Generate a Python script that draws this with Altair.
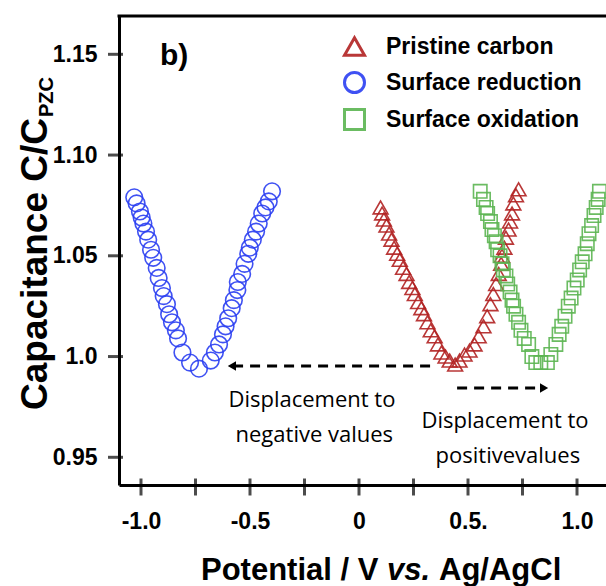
import altair as alt
import pandas as pd

# ---------------- data ----------------
series_names = ["Pristine carbon", "Surface reduction", "Surface oxidation"]
series_colors = ["#b22222", "#2b3ff2", "#5cb552"]
series_shapes = ["triangle-up", "circle", "square"]

red_v = [0.099, 0.106, 0.114, 0.126, 0.138, 0.149, 0.161, 0.175, 0.187, 0.202,
         0.218, 0.230, 0.245, 0.256, 0.271, 0.286, 0.298, 0.314, 0.329, 0.347,
         0.362, 0.378, 0.397, 0.416, 0.441, 0.461, 0.484, 0.507, 0.530, 0.549,
         0.571, 0.588, 0.603, 0.616, 0.629, 0.641, 0.652, 0.656, 0.667, 0.674,
         0.686, 0.693, 0.702, 0.708, 0.720, 0.732]
red_c = [1.074, 1.071, 1.068, 1.065, 1.061, 1.058, 1.054, 1.051, 1.048, 1.044,
         1.041, 1.037, 1.034, 1.031, 1.027, 1.024, 1.021, 1.017, 1.013, 1.010,
         1.006, 1.002, 1.000, 0.998, 0.996, 0.998, 1.001, 1.003, 1.006, 1.010,
         1.015, 1.020, 1.026, 1.031, 1.036, 1.041, 1.046, 1.050, 1.054, 1.059,
         1.063, 1.067, 1.071, 1.076, 1.080, 1.083]

blue_v = [-1.031, -1.020, -1.005, -0.997, -0.989, -0.977, -0.967, -0.954, -0.944, -0.928,
          -0.919, -0.904, -0.896, -0.881, -0.871, -0.858, -0.840, -0.830, -0.810, -0.775,
          -0.734, -0.680, -0.661, -0.642, -0.624, -0.612, -0.600, -0.584, -0.574, -0.558,
          -0.556, -0.536, -0.525, -0.508, -0.501, -0.487, -0.472, -0.460, -0.444, -0.429,
          -0.414, -0.399]
blue_c = [1.079, 1.076, 1.072, 1.069, 1.066, 1.062, 1.058, 1.053, 1.049, 1.044,
          1.039, 1.034, 1.030, 1.026, 1.021, 1.017, 1.013, 1.009, 1.002, 0.997,
          0.994, 0.998, 1.002, 1.006, 1.011, 1.015, 1.019, 1.024, 1.028, 1.033,
          1.037, 1.041, 1.046, 1.051, 1.054, 1.058, 1.062, 1.066, 1.071, 1.074,
          1.077, 1.082]

green_v = [0.556, 0.571, 0.583, 0.590, 0.603, 0.610, 0.621, 0.629, 0.636, 0.647,
           0.656, 0.662, 0.674, 0.682, 0.693, 0.702, 0.709, 0.720, 0.732, 0.743,
           0.758, 0.778, 0.793, 0.811, 0.834, 0.864, 0.880, 0.903, 0.918, 0.930,
           0.945, 0.960, 0.973, 0.986, 1.001, 1.012, 1.024, 1.037, 1.047, 1.055,
           1.067, 1.078, 1.088, 1.097, 1.103]
green_c = [1.082, 1.078, 1.074, 1.071, 1.067, 1.063, 1.060, 1.057, 1.053, 1.050,
           1.046, 1.043, 1.040, 1.036, 1.032, 1.028, 1.025, 1.021, 1.017, 1.013,
           1.009, 1.006, 1.000, 0.997, 0.997, 0.997, 1.001, 1.006, 1.011, 1.015,
           1.020, 1.025, 1.029, 1.034, 1.038, 1.043, 1.047, 1.051, 1.056, 1.061,
           1.065, 1.070, 1.074, 1.078, 1.082]

x_ticks = [-1.0, -0.75, -0.5, -0.25, 0.0, 0.25, 0.5, 0.75, 1.0]
x_label_vals = [-1.0, -0.5, 0.0, 0.5, 1.0]
x_label_text = ["-1.0", "-0.5", "0", "0.5.", "1.0"]
y_ticks = [0.95, 1.0, 1.05, 1.10, 1.15]
y_label_text = ["0.95", "1.0", "1.05", "1.10", "1.15"]

# annotations
arrow_start = [0.326, 0.450]
arrow_end = [-0.583, 0.849]
arrow_c = [0.9953, 0.9844]
arrow_heads = ["triangle-left", "triangle-right"]
note_text = ["Displacement to", "negative values", "Displacement to", "positivevalues"]
note_v = [-0.216, -0.205, 0.670, 0.683]
note_c = [0.9784, 0.9611, 0.9680, 0.9506]
panel_label = "b)"
panel_v, panel_c = -0.913, 1.1492

# ---------------- layout ----------------
W, H = 487, 469
x_dom = [-1.1009, 1.1330]
y_dom = [0.93625, 1.16901]
BOLD = "Liberation Sans"


def lab_expr(vals, texts):
    e = "''"
    for v, t in reversed(list(zip(vals, texts))):
        e = f"abs(datum.value - ({v})) < 0.01 ? '{t}' : ({e})"
    return e


xs = alt.Scale(domain=x_dom, nice=False, zero=False)
ys = alt.Scale(domain=y_dom, nice=False, zero=False)
x_axis = alt.Axis(values=x_label_vals, labelExpr=lab_expr(x_label_vals, x_label_text),
                  title=None, grid=False, ticks=False, tickSize=0, domainWidth=3,
                  domainColor="black", labelFont=BOLD, labelFontSize=23,
                  labelFontWeight="bold", labelColor="black", labelPadding=25)
y_axis = alt.Axis(values=y_ticks, labelExpr=lab_expr(y_ticks, y_label_text),
                  title=None, grid=False, ticks=False, tickSize=0, domainWidth=3,
                  domainColor="black", labelFont=BOLD, labelFontSize=23,
                  labelFontWeight="bold", labelColor="black", labelPadding=22)


def X(field="V"):
    return alt.X(f"{field}:Q", scale=xs, axis=x_axis)


def Y(field="C"):
    return alt.Y(f"{field}:Q", scale=ys, axis=y_axis)


legend = alt.Legend(orient="none", legendX=224, legendY=19, title=None,
                    labelFont=BOLD, labelFontSize=23, labelFontWeight="bold",
                    labelColor="black", labelLimit=400, symbolSize=400,
                    symbolStrokeWidth=3, labelOffset=20, rowPadding=4, padding=0)
color_enc = alt.Color("series:N", scale=alt.Scale(domain=series_names, range=series_colors),
                      legend=legend)
shape_enc = alt.Shape("series:N", scale=alt.Scale(domain=series_names, range=series_shapes),
                      legend=legend)

frames = []
for name, vv, cc in [(series_names[0], red_v, red_c),
                     (series_names[1], blue_v, blue_c),
                     (series_names[2], green_v, green_c)]:
    frames.append(pd.DataFrame({"V": vv, "C": cc, "series": name}))
sizes = {series_names[0]: 220, series_names[1]: 275, series_names[2]: 180}

layers = []
for df in frames:
    nm = df["series"].iloc[0]
    layers.append(
        alt.Chart(df).mark_point(filled=False, strokeWidth=1.6, size=sizes[nm], opacity=0.9)
        .encode(x=X(), y=Y(), color=color_enc, shape=shape_enc)
    )

# axis ticks crossing the axes
xt = alt.Chart(pd.DataFrame({"V": x_ticks})).mark_tick(
    orient="vertical", size=17, thickness=3, color="black", yOffset=2
).encode(x=X(), y=alt.value(H))
yt = alt.Chart(pd.DataFrame({"C": y_ticks})).mark_tick(
    orient="horizontal", size=15, thickness=3, color="black", xOffset=-3.5
).encode(y=Y(), x=alt.value(0))
top_rule = alt.Chart(pd.DataFrame({"a": [0]})).mark_rule(color="black", strokeWidth=3).encode(
    x=alt.value(-1.5), x2=alt.value(W + 5), y=alt.value(0))

# dashed arrows
arr = pd.DataFrame({"V": arrow_start, "V2": arrow_end, "C": arrow_c})
arr_lines = alt.Chart(arr).mark_rule(color="black", strokeWidth=3, strokeDash=[10, 7]).encode(
    x=X(), x2="V2:Q", y=Y())
heads = []
for v, c, shp in zip(arrow_end, arrow_c, arrow_heads):
    heads.append(alt.Chart(pd.DataFrame({"V": [v], "C": [c]})).mark_point(
        shape=shp, filled=True, color="black", size=90, opacity=1).encode(x=X(), y=Y()))

notes = alt.Chart(pd.DataFrame({"V": note_v, "C": note_c, "t": note_text})).mark_text(
    font="Open Sans", fontSize=22, color="black", align="center", baseline="middle"
).encode(x=X(), y=Y(), text="t:N")

panel = alt.Chart(pd.DataFrame({"V": [panel_v], "C": [panel_c], "t": [panel_label]})).mark_text(
    font=BOLD, fontSize=30, fontWeight="bold", color="black", align="left", baseline="middle"
).encode(x=X(), y=Y(), text="t:N")

# axis titles (mixed styling -> separate text pieces)
one = pd.DataFrame({"a": [0]})
xt1 = alt.Chart(one).mark_text(text="Potential / V", font=BOLD, fontSize=31, fontWeight="bold",
                               align="left", baseline="alphabetic", color="black").encode(
    x=alt.value(82), y=alt.value(564))
xt2 = alt.Chart(one).mark_text(text="vs.", font=BOLD, fontSize=31, fontWeight="bold",
                               fontStyle="italic", align="left", baseline="alphabetic",
                               color="black").encode(x=alt.value(268), y=alt.value(564))
xt3 = alt.Chart(one).mark_text(text="Ag/AgCl", font=BOLD, fontSize=31, fontWeight="bold",
                               align="left", baseline="alphabetic", color="black").encode(
    x=alt.value(320), y=alt.value(564))
yt1 = alt.Chart(one).mark_text(text="Capacitance C/C", font=BOLD, fontSize=37, fontWeight="bold",
                               angle=270, align="left", baseline="alphabetic",
                               color="black").encode(x=alt.value(-72), y=alt.value(394))
yt2 = alt.Chart(one).mark_text(text="PZC", font=BOLD, fontSize=20, fontWeight="bold",
                               angle=270, align="left", baseline="alphabetic",
                               color="black").encode(x=alt.value(-66), y=alt.value(101))

chart = alt.layer(
    *layers, xt, yt, top_rule, arr_lines, *heads, notes, panel, xt1, xt2, xt3, yt1, yt2
).properties(
    width=W, height=H,
    autosize=alt.AutoSizeParams(type="none"),
    padding={"left": 119, "top": 16, "right": 0, "bottom": 101},
    background="white",
).configure_view(stroke=None)

chart.save("out.html", embed_options={"renderer": "svg", "actions": False})
